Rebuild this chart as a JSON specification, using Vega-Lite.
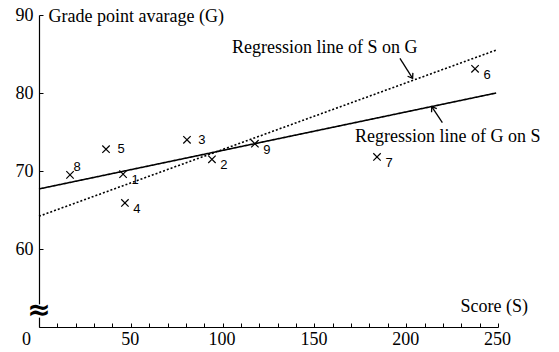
{
  "$schema": "https://vega.github.io/schema/vega-lite/v6.json",
  "width": 459,
  "height": 312,
  "autosize": {"type": "none"},
  "padding": {"left": 39, "top": 15, "right": 61, "bottom": 25},
  "background": "white",
  "config": {"view": {"stroke": null}, "font": "Liberation Serif"},
  "datasets": {
    "points": [
      {"id": 1, "S": 45.8, "G": 69.6},
      {"id": 2, "S": 94.2, "G": 71.5},
      {"id": 3, "S": 80.6, "G": 74.0},
      {"id": 4, "S": 46.8, "G": 65.9},
      {"id": 5, "S": 36.5, "G": 72.8},
      {"id": 6, "S": 237.5, "G": 83.1},
      {"id": 7, "S": 184.1, "G": 71.8},
      {"id": 8, "S": 16.9, "G": 69.5},
      {"id": 9, "S": 117.6, "G": 73.5}
    ],
    "lines": [
      {"line": "G on S", "S": 0, "G": 67.7},
      {"line": "G on S", "S": 249, "G": 80.0},
      {"line": "S on G", "S": 0, "G": 64.2},
      {"line": "S on G", "S": 249, "G": 85.5}
    ],
    "notes": [
      {"text": "Regression line of S on G", "S": 105.1, "G": 85.8},
      {"text": "Regression line of G on S", "S": 172.1, "G": 74.4}
    ],
    "arrows": [
      {"arrow": "S on G", "S": 196.6, "G": 84.45, "S2": 203.5, "G2": 81.88},
      {"arrow": "G on S", "S": 219.7, "G": 76.19, "S2": 213.9, "G2": 78.24}
    ],
    "breakmark": [
      {"S": 0, "G": 52.05, "G1": 51.2, "G2": 52.9, "symbol": "≈"}
    ]
  },
  "resolve": {"axis": {"x": "independent"}},
  "layer": [
    {
      "layer": [
        {
          "data": {"name": "points"},
          "mark": {"type": "point", "shape": "M-1,-1L1,1M-1,1L1,-1", "filled": false, "stroke": "black", "strokeWidth": 1.2, "size": 55, "opacity": 1},
          "encoding": {
            "x": {
              "field": "S", "type": "quantitative",
              "scale": {"domain": [0, 250], "nice": false, "zero": false},
              "axis": {
                "orient": "bottom",
                "values": [0, 50, 100, 150, 200, 250],
                "grid": false,
                "tickSize": -4,
                "tickColor": "black",
                "domainColor": "black",
                "domainWidth": 1.2,
                "labelFlush": false,
                "labelOverlap": false,
                "labelPadding": 7,
                "labelFont": "Liberation Serif",
                "labelFontSize": 18,
                "labelColor": "black",
                "labelOffset": {"condition": {"test": "datum.value === 0", "value": -13}, "value": -1},
                "title": "Score (S)",
                "titleFont": "Liberation Serif",
                "titleFontSize": 18,
                "titleFontWeight": "normal",
                "titleColor": "black",
                "titleAlign": "left",
                "titleBaseline": "middle",
                "titleX": 421,
                "titleY": -21
              }
            },
            "y": {
              "field": "G", "type": "quantitative",
              "scale": {"domain": [50, 90], "nice": false, "zero": false},
              "axis": {
                "values": [60, 70, 80, 90],
                "grid": false,
                "tickSize": -4,
                "tickColor": "black",
                "domainColor": "black",
                "domainWidth": 1.2,
                "labelPadding": 10,
                "labelFont": "Liberation Serif",
                "labelFontSize": 18,
                "labelColor": "black",
                "title": "Grade point avarage (G)",
                "titleFont": "Liberation Serif",
                "titleFontSize": 18,
                "titleFontWeight": "normal",
                "titleColor": "black",
                "titleAngle": 0,
                "titleAlign": "left",
                "titleBaseline": "middle",
                "titleX": 9,
                "titleY": 1
              }
            }
          }
        },
        {
          "data": {"name": "points"},
          "transform": [{"filter": "datum.id !== 3 && datum.id !== 5 && datum.id !== 8"}],
          "mark": {"type": "text", "font": "Liberation Sans", "fontSize": 13, "color": "black", "align": "center", "baseline": "middle", "dx": 12, "dy": 6},
          "encoding": {"x": {"field": "S", "type": "quantitative"}, "y": {"field": "G", "type": "quantitative"}, "text": {"field": "id"}}
        },
        {
          "data": {"name": "points"},
          "transform": [{"filter": "datum.id === 3 || datum.id === 5"}],
          "mark": {"type": "text", "font": "Liberation Sans", "fontSize": 13, "color": "black", "align": "center", "baseline": "middle", "dx": 15, "dy": 0},
          "encoding": {"x": {"field": "S", "type": "quantitative"}, "y": {"field": "G", "type": "quantitative"}, "text": {"field": "id"}}
        },
        {
          "data": {"name": "points"},
          "transform": [{"filter": "datum.id === 8"}],
          "mark": {"type": "text", "font": "Liberation Sans", "fontSize": 13, "color": "black", "align": "center", "baseline": "middle", "dx": 7, "dy": -8},
          "encoding": {"x": {"field": "S", "type": "quantitative"}, "y": {"field": "G", "type": "quantitative"}, "text": {"field": "id"}}
        },
        {
          "data": {"name": "lines"},
          "mark": {"type": "line", "color": "black", "strokeWidth": 1.6},
          "encoding": {
            "x": {"field": "S", "type": "quantitative"},
            "y": {"field": "G", "type": "quantitative"},
            "detail": {"field": "line"},
            "strokeDash": {"field": "line", "type": "nominal", "scale": {"domain": ["G on S", "S on G"], "range": [[1, 0], [2, 2]]}, "legend": null}
          }
        },
        {
          "data": {"name": "notes"},
          "mark": {"type": "text", "font": "Liberation Serif", "fontSize": 18, "color": "black", "align": "left", "baseline": "middle"},
          "encoding": {"x": {"field": "S", "type": "quantitative"}, "y": {"field": "G", "type": "quantitative"}, "text": {"field": "text"}}
        },
        {
          "data": {"name": "arrows"},
          "mark": {"type": "rule", "color": "black", "strokeWidth": 1.3},
          "encoding": {"x": {"field": "S", "type": "quantitative"}, "y": {"field": "G", "type": "quantitative"}, "x2": {"field": "S2"}, "y2": {"field": "G2"}}
        },
        {
          "data": {"name": "arrows"},
          "transform": [{"filter": "datum.arrow === 'S on G'"}],
          "mark": {"type": "point", "shape": "M-0.7,1L0,0L0.7,1", "filled": false, "stroke": "black", "strokeWidth": 1.3, "size": 80, "angle": 147.6, "opacity": 1},
          "encoding": {"x": {"field": "S2", "type": "quantitative"}, "y": {"field": "G2", "type": "quantitative"}}
        },
        {
          "data": {"name": "arrows"},
          "transform": [{"filter": "datum.arrow === 'G on S'"}],
          "mark": {"type": "point", "shape": "M-0.7,1L0,0L0.7,1", "filled": false, "stroke": "black", "strokeWidth": 1.3, "size": 80, "angle": 326.5, "opacity": 1},
          "encoding": {"x": {"field": "S2", "type": "quantitative"}, "y": {"field": "G2", "type": "quantitative"}}
        },
        {
          "data": {"name": "breakmark"},
          "mark": {"type": "rule", "color": "white", "strokeWidth": 4},
          "encoding": {"x": {"field": "S", "type": "quantitative"}, "y": {"field": "G1", "type": "quantitative"}, "y2": {"field": "G2"}}
        },
        {
          "data": {"name": "breakmark"},
          "mark": {"type": "text", "font": "DejaVu Sans", "fontSize": 28, "fontWeight": "bold", "color": "black", "align": "center", "baseline": "middle"},
          "encoding": {"x": {"field": "S", "type": "quantitative"}, "y": {"field": "G", "type": "quantitative"}, "text": {"field": "symbol"}}
        }
      ]
    },
    {
      "data": {"name": "points"},
      "mark": {"type": "point", "opacity": 0},
      "encoding": {
        "x": {
          "field": "S", "type": "quantitative",
          "axis": {
            "orient": "bottom",
            "values": [10, 20, 30, 40, 60, 70, 80, 90, 110, 120, 130, 140, 160, 170, 180, 190, 210, 220, 230, 240],
            "labels": false,
            "domain": false,
            "grid": false,
            "title": null,
            "tickSize": -4,
            "tickColor": "black"
          }
        },
        "y": {"field": "G", "type": "quantitative"}
      }
    }
  ]
}
